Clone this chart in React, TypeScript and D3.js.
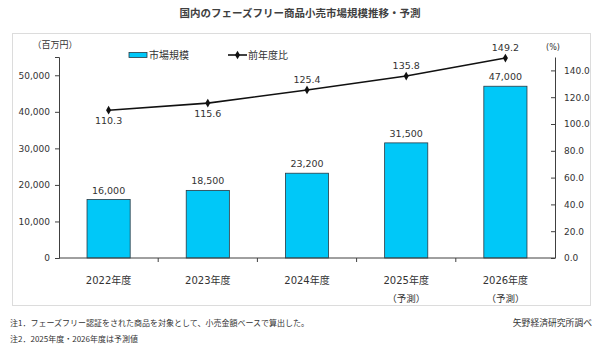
import { useEffect, useRef } from "react";
import * as d3 from "d3";

// Chart data
const categories = ["2022年度", "2023年度", "2024年度", "2025年度", "2026年度"];
const subLabels = ["", "", "", "（予測）", "（予測）"];
const marketSize = [16000, 18500, 23200, 31500, 47000];
const yoyRatio = [110.3, 115.6, 125.4, 135.8, 149.2];
const yoyLabelAbove = [false, false, true, true, true];
const leftTicks = [0, 10000, 20000, 30000, 40000, 50000];
const rightTicks = [0, 20, 40, 60, 80, 100, 120, 140];

const numFont = "Verdana, 'DejaVu Sans', 'Noto Sans CJK JP', sans-serif";
const jpFont = "'Noto Sans CJK JP', sans-serif";

export default function App() {
    const svgRef = useRef<SVGSVGElement | null>(null);

    useEffect(() => {
        if (!svgRef.current) return;
        document.body.style.margin = "0";

        const svg = d3.select(svgRef.current);
        svg.selectAll("*").remove();

        const width = 600;
        const height = 351;
        const plot = { left: 59, right: 555, top: 57, bottom: 258 };

        svg.append("rect")
            .attr("width", width)
            .attr("height", height)
            .attr("fill", "#ffffff");

        // Title
        svg.append("text")
            .attr("x", 300)
            .attr("y", 17)
            .attr("text-anchor", "middle")
            .attr("font-family", jpFont)
            .attr("font-size", "10.5px")
            .attr("font-weight", 600)
            .attr("fill", "#404040")
            .text("国内のフェーズフリー商品小売市場規模推移・予測");

        // Frame around chart area
        svg.append("rect")
            .attr("x", 12.5)
            .attr("y", 33.5)
            .attr("width", 578)
            .attr("height", 272)
            .attr("fill", "none")
            .attr("stroke", "#dcdcdc");

        // Scales
        const x = d3
            .scaleBand()
            .domain(categories)
            .range([plot.left, plot.right])
            .paddingInner(0.565)
            .paddingOuter(0.2825);

        const yLeft = d3.scaleLinear().domain([0, 55000]).range([plot.bottom, plot.top]);
        const yRight = d3.scaleLinear().domain([0, 150]).range([plot.bottom, plot.top]);

        // Left axis
        const gl = svg
            .append("g")
            .attr("transform", `translate(${plot.left},0)`)
            .call(
                d3
                    .axisLeft(yLeft)
                    .tickValues(leftTicks)
                    .tickSize(4)
                    .tickPadding(5)
                    .tickFormat((d) => d3.format(",")(d as number))
            );
        gl.select(".domain").attr("stroke", "#404040");
        gl.selectAll(".tick line").attr("stroke", "#404040");
        gl.selectAll("text")
            .attr("font-family", numFont)
            .attr("font-size", "9px")
            .attr("fill", "#333");

        // Right axis (ticks pointing inward)
        const gr = svg
            .append("g")
            .attr("transform", `translate(${plot.right},0)`)
            .call(
                d3
                    .axisRight(yRight)
                    .tickValues(rightTicks)
                    .tickSizeInner(-4)
                    .tickSizeOuter(0)
                    .tickPadding(9)
                    .tickFormat((d) => d3.format(".1f")(d as number))
            );
        gr.select(".domain").attr("stroke", "#404040");
        gr.selectAll(".tick line").attr("stroke", "#404040");
        gr.selectAll("text")
            .attr("font-family", numFont)
            .attr("font-size", "9px")
            .attr("fill", "#333");

        // Unit labels
        svg.append("text")
            .attr("x", 55)
            .attr("y", 48)
            .attr("text-anchor", "middle")
            .attr("font-family", jpFont)
            .attr("font-size", "9px")
            .attr("fill", "#333")
            .text("（百万円）");
        svg.append("text")
            .attr("x", 553)
            .attr("y", 50)
            .attr("text-anchor", "middle")
            .attr("font-family", numFont)
            .attr("font-size", "8px")
            .attr("fill", "#333")
            .text("(%)");

        // Bars
        svg.selectAll(".bar")
            .data(marketSize)
            .enter()
            .append("rect")
            .attr("class", "bar")
            .attr("x", (d, i) => x(categories[i]) || 0)
            .attr("y", (d) => yLeft(d))
            .attr("width", x.bandwidth())
            .attr("height", (d) => plot.bottom - yLeft(d))
            .attr("fill", "#00c8f8")
            .attr("stroke", "#2a3a44")
            .attr("stroke-width", 0.8);

        svg.selectAll(".bar-label")
            .data(marketSize)
            .enter()
            .append("text")
            .attr("class", "bar-label")
            .attr("x", (d, i) => (x(categories[i]) || 0) + x.bandwidth() / 2)
            .attr("y", (d) => yLeft(d) - 6)
            .attr("text-anchor", "middle")
            .attr("font-family", numFont)
            .attr("font-size", "9.5px")
            .attr("fill", "#333")
            .text((d) => d3.format(",")(d));

        // X axis
        svg.append("line")
            .attr("x1", plot.left)
            .attr("x2", plot.right)
            .attr("y1", plot.bottom)
            .attr("y2", plot.bottom)
            .attr("stroke", "#404040");

        const step = x.step();
        svg.selectAll(".xtick")
            .data(d3.range(1, categories.length))
            .enter()
            .append("line")
            .attr("class", "xtick")
            .attr("x1", (i) => plot.left + i * step)
            .attr("x2", (i) => plot.left + i * step)
            .attr("y1", plot.bottom)
            .attr("y2", plot.bottom + 4)
            .attr("stroke", "#404040");

        svg.selectAll(".xlabel")
            .data(categories)
            .enter()
            .append("text")
            .attr("class", "xlabel")
            .attr("x", (d) => (x(d) || 0) + x.bandwidth() / 2)
            .attr("y", 284)
            .attr("text-anchor", "middle")
            .attr("font-family", numFont)
            .attr("font-size", "10px")
            .attr("fill", "#333")
            .text((d) => d);

        svg.selectAll(".xsub")
            .data(subLabels)
            .enter()
            .append("text")
            .attr("class", "xsub")
            .attr("x", (d, i) => (x(categories[i]) || 0) + x.bandwidth() / 2)
            .attr("y", 302)
            .attr("text-anchor", "middle")
            .attr("font-family", jpFont)
            .attr("font-size", "9.5px")
            .attr("fill", "#333")
            .text((d) => d);

        // YoY line
        const cx = (i: number) => (x(categories[i]) || 0) + x.bandwidth() / 2;
        const line = d3
            .line<number>()
            .x((d, i) => cx(i))
            .y((d) => yRight(d));

        svg.append("path")
            .datum(yoyRatio)
            .attr("d", line)
            .attr("fill", "none")
            .attr("stroke", "#111")
            .attr("stroke-width", 1.6);

        svg.selectAll(".marker")
            .data(yoyRatio)
            .enter()
            .append("path")
            .attr("class", "marker")
            .attr("transform", (d, i) => `translate(${cx(i)},${yRight(d)})`)
            .attr("d", d3.symbol().type(d3.symbolDiamond).size(22)())
            .attr("fill", "#111");

        svg.selectAll(".yoy-label")
            .data(yoyRatio)
            .enter()
            .append("text")
            .attr("class", "yoy-label")
            .attr("x", (d, i) => cx(i))
            .attr("y", (d, i) => (yoyLabelAbove[i] ? yRight(d) - 7 : yRight(d) + 14))
            .attr("text-anchor", "middle")
            .attr("font-family", numFont)
            .attr("font-size", "9.5px")
            .attr("fill", "#333")
            .text((d) => d3.format(".1f")(d));

        // Legend
        svg.append("rect")
            .attr("x", 129)
            .attr("y", 52.5)
            .attr("width", 18)
            .attr("height", 5)
            .attr("fill", "#00c8f8")
            .attr("stroke", "#2a3a44")
            .attr("stroke-width", 0.8);
        svg.append("text")
            .attr("x", 149)
            .attr("y", 59)
            .attr("font-family", jpFont)
            .attr("font-size", "10px")
            .attr("fill", "#333")
            .text("市場規模");
        svg.append("line")
            .attr("x1", 228)
            .attr("x2", 247)
            .attr("y1", 55)
            .attr("y2", 55)
            .attr("stroke", "#111")
            .attr("stroke-width", 1.6);
        svg.append("path")
            .attr("transform", "translate(237.5,55)")
            .attr("d", d3.symbol().type(d3.symbolDiamond).size(22)())
            .attr("fill", "#111");
        svg.append("text")
            .attr("x", 248)
            .attr("y", 59)
            .attr("font-family", jpFont)
            .attr("font-size", "10px")
            .attr("fill", "#333")
            .text("前年度比");

        // Notes
        svg.append("text")
            .attr("x", 10)
            .attr("y", 326)
            .attr("font-family", jpFont)
            .attr("font-size", "8px")
            .attr("fill", "#333")
            .text("注1．フェーズフリー認証をされた商品を対象として、小売金額ベースで算出した。");
        svg.append("text")
            .attr("x", 10)
            .attr("y", 342)
            .attr("font-family", jpFont)
            .attr("font-size", "8px")
            .attr("fill", "#333")
            .text("注2．2025年度・2026年度は予測値");
        svg.append("text")
            .attr("x", 592)
            .attr("y", 326)
            .attr("text-anchor", "end")
            .attr("font-family", jpFont)
            .attr("font-size", "8.8px")
            .attr("fill", "#333")
            .text("矢野経済研究所調べ");
    }, []);

    return <svg ref={svgRef} width={600} height={351} style={{ display: "block" }} />;
}
